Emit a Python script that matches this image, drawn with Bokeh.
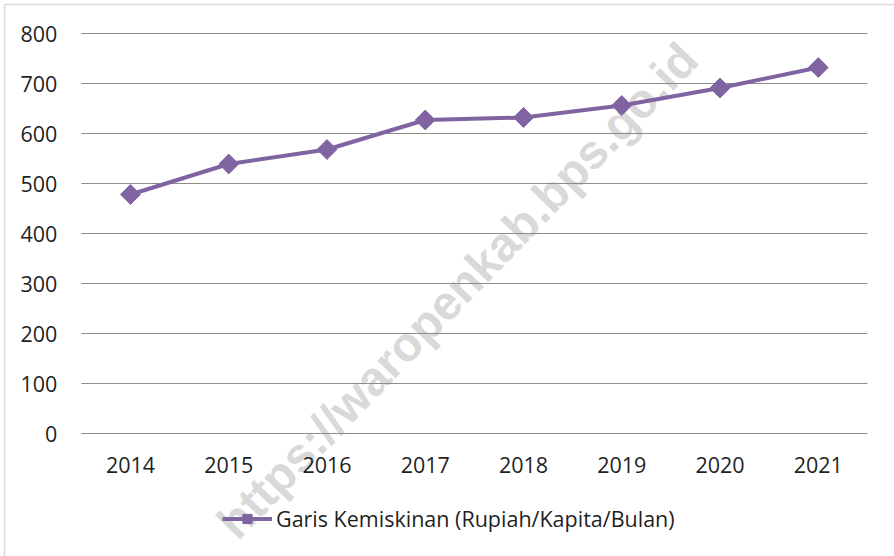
import math
from bokeh.plotting import figure
from bokeh.models import (Range1d, Legend, LegendItem, Label, BoxAnnotation,
                          FixedTicker, ColumnDataSource)
from bokeh.embed import file_html
from bokeh.resources import INLINE

# ---- data ----
years = [2014, 2015, 2016, 2017, 2018, 2019, 2020, 2021]
values = [478, 539, 568, 627, 632, 656, 691, 732]
y_ticks = [0, 100, 200, 300, 400, 500, 600, 700, 800]
series_name = "Garis Kemiskinan (Rupiah/Kapita/Bulan)"
watermark = "https://waropenkab.bps.go.id"

FONT = "Open Sans"
TXT = "#1f1f1f"
PURPLE = "#8064A2"
GRID = "#8c8c8c"

src = ColumnDataSource(dict(year=years, value=values))

# plot area band edges (half a category either side)
x_lo = years[0] - 0.5
x_hi = years[-1] + 0.5

W, H = 894, 556
p = figure(x_range=Range1d(2012.677, 2021.776),
           y_range=Range1d(-246, 866),
           width=W, height=H,
           output_backend="svg", toolbar_location=None,
           min_border_left=0, min_border_right=0,
           min_border_top=0, min_border_bottom=0)
p.outline_line_color = None
p.background_fill_color = "white"
p.border_fill_color = "white"

# chart border (top and left edges visible)
border = BoxAnnotation(left=4, right=3000, top=H - 4, bottom=-300,
                       left_units="screen", right_units="screen",
                       top_units="screen", bottom_units="screen",
                       fill_alpha=0, line_color="#8a8a8a", line_width=1.5,
                       level="underlay")
p.add_layout(border)

# axes drawn at fixed data locations inside the canvas
p.xaxis.ticker = FixedTicker(ticks=years)
p.yaxis.ticker = FixedTicker(ticks=y_ticks)
p.xaxis.fixed_location = 0
p.yaxis.fixed_location = x_lo
for ax in (p.xaxis, p.yaxis):
    ax.axis_line_color = None
    ax.major_tick_line_color = None
    ax.minor_tick_line_color = None
    ax.major_tick_out = 0
    ax.major_tick_in = 0
    ax.major_label_text_font = FONT
    ax.major_label_text_font_size = "21.5px"
    ax.major_label_text_color = TXT
p.yaxis.major_label_standoff = 24
p.xaxis.major_label_standoff = 23

p.xgrid.visible = False
p.ygrid.visible = False

# horizontal gridlines limited to the plot area
p.segment(x0=[x_lo] * len(y_ticks), x1=[x_hi] * len(y_ticks),
          y0=y_ticks, y1=y_ticks, line_color=GRID, line_width=1)

# watermark
wm = Label(x=457, y=H - 290, x_units="screen", y_units="screen", text=watermark,
           angle=46, angle_units="deg", text_align="center", text_baseline="middle",
           text_font="Liberation Sans", text_font_style="bold", text_font_size="48px",
           text_color="#d9d9d9", level="underlay")
p.add_layout(wm)

# series
ln = p.line(x="year", y="value", source=src, line_color=PURPLE, line_width=4)
sc = p.scatter(x="year", y="value", source=src, marker="square", size=14,
               angle=math.pi / 4, fill_color=PURPLE, line_color=PURPLE)

legend = Legend(items=[LegendItem(label=series_name, renderers=[ln, sc])],
                location=(222, 23), orientation="horizontal",
                glyph_width=50, glyph_height=23, label_standoff=4,
                padding=0, margin=0, spacing=0,
                border_line_color=None, background_fill_alpha=0,
                label_text_font=FONT, label_text_font_size="21.5px",
                label_text_color=TXT, label_text_baseline="middle")
p.add_layout(legend)

open("out.html", "w").write(file_html(p, INLINE))
